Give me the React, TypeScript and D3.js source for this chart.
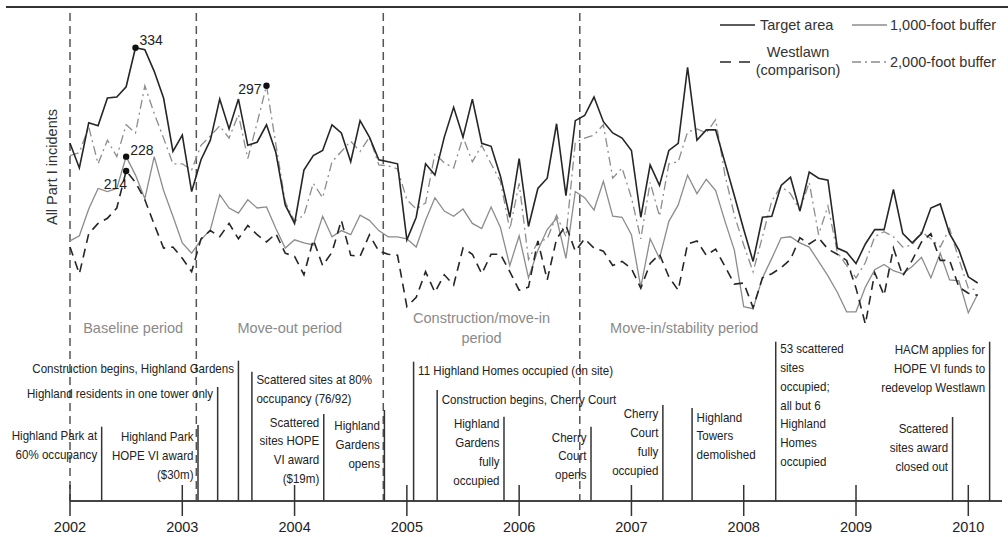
import React from 'react';
import * as d3 from 'd3';

// ---------- DATA ----------
const startYear = 2002;

const targetArea = [241, 217, 261, 258, 285, 286, 296, 334, 332, 311, 285, 233, 249, 194, 225, 244, 284, 255, 284, 239, 242, 259, 232, 181, 163, 215, 229, 234, 259, 251, 223, 263, 247, 225, 223, 221, 147, 169, 221, 210, 247, 276, 247, 284, 241, 238, 209, 169, 226, 160, 197, 207, 260, 190, 263, 268, 286, 262, 251, 246, 234, 169, 220, 200, 234, 241, 315, 244, 254, 254, 222, 190, 157, 126, 169, 170, 200, 208, 175, 213, 207, 205, 139, 135, 124, 143, 157, 157, 196, 153, 144, 153, 178, 182, 153, 137, 111, 105];

const buffer1000 = [146, 151, 177, 197, 194, 197, 228, 210, 187, 228, 195, 170, 144, 134, 147, 157, 191, 178, 173, 186, 178, 179, 158, 139, 147, 144, 142, 170, 150, 156, 152, 171, 166, 156, 150, 150, 148, 140, 166, 188, 175, 170, 177, 163, 158, 179, 159, 122, 151, 110, 137, 157, 168, 129, 194, 188, 176, 204, 170, 169, 152, 101, 148, 129, 165, 181, 210, 192, 206, 195, 165, 137, 82, 80, 110, 129, 149, 150, 144, 140, 126, 112, 96, 77, 77, 101, 118, 123, 117, 114, 121, 130, 110, 134, 108, 107, 76, 94];

const buffer2000 = [229, 232, 257, 221, 244, 228, 259, 251, 297, 270, 246, 221, 221, 215, 239, 248, 258, 246, 269, 226, 261, 297, 240, 184, 165, 171, 202, 188, 223, 233, 243, 233, 247, 220, 219, 216, 186, 177, 183, 231, 222, 217, 247, 223, 239, 221, 204, 157, 202, 128, 145, 148, 171, 150, 242, 246, 249, 259, 207, 217, 188, 148, 203, 170, 221, 223, 252, 255, 251, 264, 210, 171, 142, 116, 150, 185, 199, 192, 176, 203, 152, 180, 135, 122, 110, 125, 150, 155, 150, 140, 142, 155, 148, 140, 158, 128, 100, 98];

const westlawn = [140, 114, 153, 163, 168, 178, 214, 203, 186, 162, 139, 140, 129, 116, 148, 156, 150, 163, 148, 161, 152, 145, 153, 134, 131, 113, 147, 122, 135, 166, 132, 131, 152, 136, 133, 132, 82, 91, 116, 96, 113, 103, 139, 133, 114, 133, 133, 116, 98, 101, 146, 108, 148, 161, 136, 148, 139, 136, 122, 126, 119, 100, 124, 133, 111, 98, 143, 146, 132, 138, 121, 104, 105, 81, 110, 114, 120, 128, 149, 143, 149, 138, 133, 127, 100, 65, 115, 93, 139, 112, 127, 145, 153, 127, 127, 101, 95, 93];

const yearTicks = [2002, 2003, 2004, 2005, 2006, 2007, 2008, 2009, 2010];

const periodBoundaries = [2002, 2003.125, 2004.79, 2006.54];

const periods = [
  { lines: ['Baseline period'], start: 2002, end: 2003.125 },
  { lines: ['Move-out period'], start: 2003.125, end: 2004.79 },
  { lines: ['Construction/move-in', 'period'], start: 2004.79, end: 2006.54 },
  { lines: ['Move-in/stability period'], start: 2006.54, end: 2008.4 },
];

const events = [
  { date: 2002.282, lines: ['Highland Park at', '60% occupancy'] },
  { date: 2003.14, lines: ['Highland Park', 'HOPE VI award', '($30m)'] },
  { date: 2003.315, lines: ['Highland residents in one tower only'] },
  { date: 2003.5, lines: ['Construction begins, Highland Gardens'] },
  { date: 2003.62, lines: ['Scattered sites at 80%', 'occupancy (76/92)'] },
  { date: 2004.26, lines: ['Scattered', 'sites HOPE', 'VI award', '($19m)'] },
  { date: 2004.8, lines: ['Highland', 'Gardens', 'opens'] },
  { date: 2005.06, lines: ['11 Highland Homes occupied (on site)'] },
  { date: 2005.27, lines: ['Construction begins, Cherry Court'] },
  { date: 2005.865, lines: ['Highland', 'Gardens', 'fully', 'occupied'] },
  { date: 2006.64, lines: ['Cherry', 'Court', 'opens'] },
  { date: 2007.28, lines: ['Cherry', 'Court', 'fully', 'occupied'] },
  { date: 2007.54, lines: ['Highland', 'Towers', 'demolished'] },
  { date: 2008.285, lines: ['53 scattered', 'sites', 'occupied;', 'all but 6', 'Highland', 'Homes', 'occupied'] },
  { date: 2009.86, lines: ['Scattered', 'sites award', 'closed out'] },
  { date: 2010.19, lines: ['HACM applies for', 'HOPE VI funds to', 'redevelop Westlawn'] },
];

const highlights = [
  { series: 'target', index: 7, label: '334' },
  { series: 'b2000', index: 21, label: '297' },
  { series: 'b1000', index: 6, label: '228' },
  { series: 'westlawn', index: 6, label: '214' },
];

// ---------- LAYOUT (positions/styles, separate from data) ----------
const W = 1008;
const H = 537;
const axisY = 501;
const eventLayout = [
  { top: 426.7, base: 440, side: 'left' },
  { top: 425, base: 441, side: 'left' },
  { top: 387, base: 398.3, side: 'left' },
  { top: 360.7, base: 373.3, side: 'left' },
  { top: 371.7, base: 384, side: 'right' },
  { top: 414, base: 426.7, side: 'left' },
  { top: 410, base: 430, side: 'left' },
  { top: 361.7, base: 375, side: 'right' },
  { top: 390, base: 404, side: 'right' },
  { top: 416.7, base: 428.3, side: 'left' },
  { top: 426.7, base: 441.7, side: 'left' },
  { top: 405, base: 418.3, side: 'left' },
  { top: 408, base: 421.7, side: 'right' },
  { top: 341.7, base: 353.3, side: 'right' },
  { top: 417, base: 433.3, side: 'left' },
  { top: 341.7, base: 354, side: 'left' },
];
const highlightLayout = [
  { dx: 4, dy: -3, anchor: 'start' },
  { dx: -5, dy: 8, anchor: 'end' },
  { dx: 4, dy: -2, anchor: 'start' },
  { dx: 1, dy: 18, anchor: 'end' },
];

const REG = '"Liberation Sans", Arial, sans-serif';
const EVENT_FONT_SIZE = 13.6;
const EVENT_SQUEEZE = 0.85;
const DARK = '#262626';
const GRAY = '#8c8c8c';

const seriesDefs = [
  { key: 'b1000', values: buffer1000, color: GRAY, width: 1.3, dash: null },
  { key: 'b2000', values: buffer2000, color: GRAY, width: 1.3, dash: '9,4,2,4' },
  { key: 'westlawn', values: westlawn, color: DARK, width: 1.6, dash: '9,6' },
  { key: 'target', values: targetArea, color: DARK, width: 1.6, dash: null },
];

export default function App() {
  const x = d3.scaleLinear().domain([2002, 2010]).range([70, 968.3]);
  const y = d3.scaleLinear().domain([0, 380]).range([390.9, 0.45]);
  const monthX = (i: number) => x(startYear + i / 12);
  const line = d3
    .line<number>()
    .x((_, i) => monthX(i))
    .y((v) => y(v));

  const seriesMap: Record<string, number[]> = {};
  seriesDefs.forEach((s) => (seriesMap[s.key] = s.values));

  return (
    <svg
      width={W}
      height={H}
      style={{ position: 'absolute', left: 0, top: 0, background: '#fff' }}
    >
      {/* top rule */}
      <line x1={6} x2={W} y1={7} y2={7} stroke="#333" strokeWidth={2} />

      {/* period boundaries */}
      {periodBoundaries.map((d, i) => (
        <line
          key={'pb' + i}
          x1={x(d)}
          x2={x(d)}
          y1={13}
          y2={axisY}
          stroke="#555"
          strokeWidth={1.5}
          strokeDasharray="8,5"
        />
      ))}

      {/* series */}
      {seriesDefs.map((s) => (
        <path
          key={s.key}
          d={line(s.values) || ''}
          fill="none"
          stroke={s.color}
          strokeWidth={s.width}
          strokeDasharray={s.dash || undefined}
          strokeLinejoin="miter"
        />
      ))}

      {/* highlights */}
      {highlights.map((h, i) => {
        const v = seriesMap[h.series][h.index];
        const cx = monthX(h.index);
        const cy = y(v);
        const L = highlightLayout[i];
        return (
          <g key={'hl' + i}>
            <circle cx={cx} cy={cy} r={3.2} fill="#111" />
            <text
              x={cx + L.dx}
              y={cy + L.dy}
              textAnchor={L.anchor as any}
              fontFamily={REG}
              fontSize={14}
              fill="#222"
            >
              {h.label}
            </text>
          </g>
        );
      })}

      {/* y label */}
      <text
        transform="translate(57,167) rotate(-90)"
        textAnchor="middle"
        fontFamily={REG}
        fontSize={14.5}
        fill="#333"
      >
        All Part I incidents
      </text>

      {/* legend */}
      <g fontFamily={REG} fontSize={14.5} fill="#333">
        <line x1={720} x2={755} y1={25} y2={25} stroke={DARK} strokeWidth={1.6} />
        <text x={760} y={30}>Target area</text>
        <line x1={852} x2={887} y1={25} y2={25} stroke={GRAY} strokeWidth={1.6} />
        <text x={890} y={30}>1,000-foot buffer</text>
        <line x1={720} x2={755} y1={62} y2={62} stroke={DARK} strokeWidth={1.6} strokeDasharray="11,8" />
        <text x={798} y={57} textAnchor="middle">Westlawn</text>
        <text x={798} y={75} textAnchor="middle">(comparison)</text>
        <line x1={852} x2={887} y1={62} y2={62} stroke={GRAY} strokeWidth={1.6} strokeDasharray="9,4,2,4" />
        <text x={890} y={67}>2,000-foot buffer</text>
      </g>

      {/* period labels */}
      {periods.map((p, i) => {
        const cx = (x(p.start) + x(p.end)) / 2;
        const base = p.lines.length > 1 ? 323 : 333;
        return (
          <text
            key={'pl' + i}
            x={cx}
            y={base}
            textAnchor="middle"
            fontFamily={REG}
            fontSize={14.5}
            fill="#8a8a8a"
          >
            {p.lines.map((l, j) => (
              <tspan key={j} x={cx} y={base + j * 20}>
                {l}
              </tspan>
            ))}
          </text>
        );
      })}

      {/* axis */}
      <line x1={70} x2={1002} y1={axisY} y2={axisY} stroke="#444" strokeWidth={2} />
      {yearTicks.map((t) => (
        <g key={'yt' + t}>
          <line x1={x(t)} x2={x(t)} y1={485} y2={516} stroke="#333" strokeWidth={1.5} />
          <text
            x={x(t)}
            y={532}
            textAnchor="middle"
            fontFamily={REG}
            fontSize={14.5}
            fill="#222"
          >
            {t}
          </text>
        </g>
      ))}

      {/* events */}
      {events.map((e, i) => {
        const L = eventLayout[i];
        const ex = x(e.date);
        const tx = L.side === 'left' ? ex - 4.5 : ex + 4.5;
        return (
          <g key={'ev' + i}>
            <line x1={ex} x2={ex} y1={L.top} y2={axisY} stroke="#333" strokeWidth={1.5} />
            <text
              transform={`translate(${tx},0) scale(${EVENT_SQUEEZE},1)`}
              fontFamily={REG}
              fontSize={EVENT_FONT_SIZE}
              fill="#222"
              textAnchor={L.side === 'left' ? 'end' : 'start'}
            >
              {e.lines.map((l, j) => (
                <tspan key={j} x={0} y={L.base + j * 18.8}>
                  {l}
                </tspan>
              ))}
            </text>
          </g>
        );
      })}
    </svg>
  );
}
